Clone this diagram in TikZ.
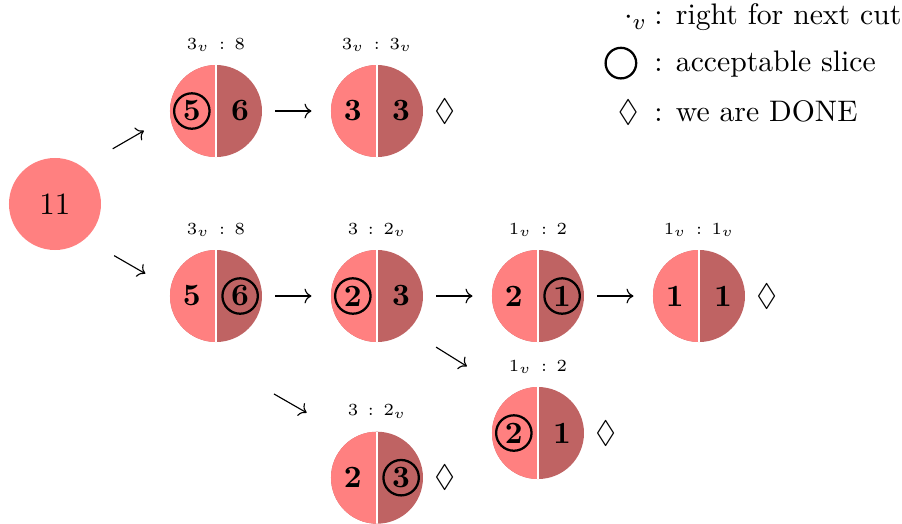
\documentclass[tikz,border=0pt,11pt]{standalone}
\usepackage{amsmath,amssymb}
\usepackage{xcolor}
\usetikzlibrary{arrows.meta,positioning}
\definecolor{lslice}{RGB}{255,128,128}
\definecolor{rslice}{RGB}{191,99,99}

\begin{document}
\begin{tikzpicture}[
  cake/.style={circle, fill=rslice, minimum size=1.143cm, inner sep=0pt,
    path picture={
      \fill[lslice] (path picture bounding box.south west) rectangle (path picture bounding box.north);
      \draw[white, line width=1pt] (path picture bounding box.south) -- (path picture bounding box.north);}},
  cut/.style={label={[font=\tiny, label distance=0.02cm]above:#1}},
  done/.style={label={[label distance=0cm]right:$\Diamond$}},
  num/.style={font=\bfseries, inner sep=1pt},
  ok/.style={num, circle, draw, thick, minimum size=0.44cm, inner sep=0pt},
  key/.style={anchor=base west, inner sep=0pt, font=\fontsize{10.5}{12}\selectfont},
  arr/.style={->, shorten <=0.16cm, shorten >=0.235cm}
]
\useasboundingbox (-0.683,-3.975) rectangle (10.522,2.534);

\node[circle, fill=lslice, minimum size=1.143cm] (root) at (0,0) {11};

\node[cake, cut={$3_v \,:\, 8$}] (n11) at (2,1.155) {};
\node[cake, cut={$3_v \,:\, 3_v$}, done] (n12) at (4,1.155) {};
\node[cake, cut={$3_v \,:\, 8$}] (n21) at (2,-1.143) {};
\node[cake, cut={$3 \,:\, 2_v$}] (n22) at (4,-1.143) {};
\node[cake, cut={$1_v \,:\, 2$}] (n23) at (6,-1.143) {};
\node[cake, cut={$1_v \,:\, 1_v$}, done] (n24) at (8,-1.143) {};
\node[cake, cut={$1_v \,:\, 2$}, done] (n31) at (6,-2.845) {};
\node[cake, cut={$3 \,:\, 2_v$}, done] (n32) at (4,-3.4) {};

\node[ok]  (n11l) at ([xshift=-0.3cm]n11.center) {5};
\node[num] (n11r) at ([xshift=0.3cm]n11.center) {6};
\node[num] (n12l) at ([xshift=-0.3cm]n12.center) {3};
\node[num] (n12r) at ([xshift=0.3cm]n12.center) {3};
\node[num] (n21l) at ([xshift=-0.3cm]n21.center) {5};
\node[ok]  (n21r) at ([xshift=0.3cm]n21.center) {6};
\node[ok]  (n22l) at ([xshift=-0.3cm]n22.center) {2};
\node[num] (n22r) at ([xshift=0.3cm]n22.center) {3};
\node[num] (n23l) at ([xshift=-0.3cm]n23.center) {2};
\node[ok]  (n23r) at ([xshift=0.3cm]n23.center) {1};
\node[num] (n24l) at ([xshift=-0.3cm]n24.center) {1};
\node[num] (n24r) at ([xshift=0.3cm]n24.center) {1};
\node[ok]  (n31l) at ([xshift=-0.3cm]n31.center) {2};
\node[num] (n31r) at ([xshift=0.3cm]n31.center) {1};
\node[num] (n32l) at ([xshift=-0.3cm]n32.center) {2};
\node[ok]  (n32r) at ([xshift=0.3cm]n32.center) {3};

\draw[->, shorten <=0.435cm, shorten >=0.37cm] (root.54) -- (n11.186);
\draw[->, shorten <=0.41cm, shorten >=0.355cm] (root.-49) -- (n21.170);
\draw[arr] (n11) -- (n12);
\draw[arr] (n21) -- (n22);
\draw[arr] (n22) -- (n23);
\draw[arr] (n23) -- (n24);
\draw[->, shorten <=0.40cm, shorten >=0.66cm] (n22.-47) -- (n31.124);
\draw[->] ([shift={(0.72,-0.638)}]n21.south) -- ([shift={(-0.295,0.807)}]n32.west);

\node[key] (k1) at (7.44,2.224) {: right for next cut};
\node[key] (k2) at (7.44,1.643) {: acceptable slice};
\node[key] (k3) at (7.44,1.022) {: we are DONE};
\node[anchor=base east, inner sep=0pt] (s1) at (7.36,2.224) {$\cdot_v$};
\node[circle, draw, thick, minimum size=0.38cm, inner sep=0pt] (s2) at (7.03,1.75) {};
\node[anchor=base, inner sep=0pt] (s3) at (7.12,1.022) {$\Diamond$};
\end{tikzpicture}
\end{document}
